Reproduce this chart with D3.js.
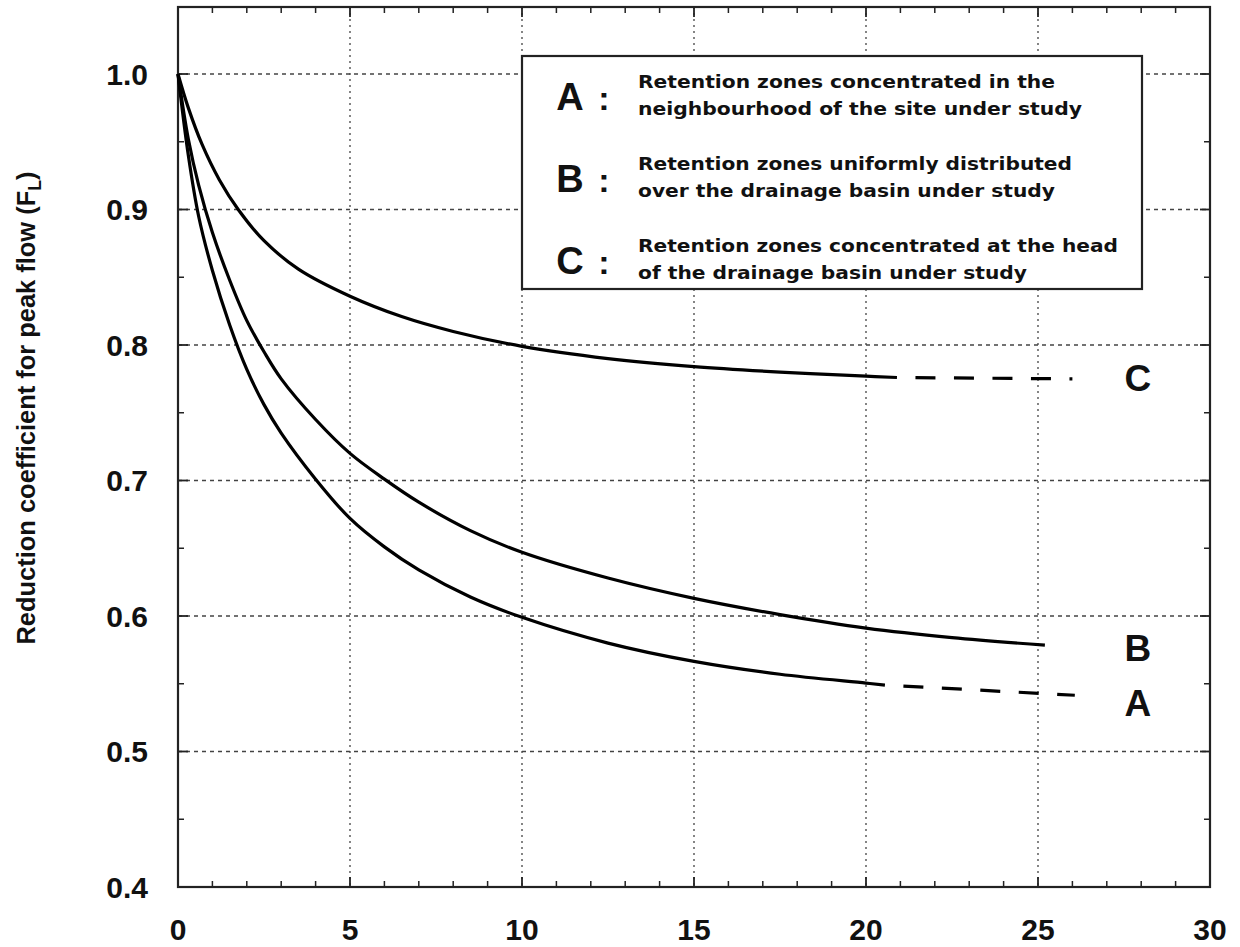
<!DOCTYPE html>
<html>
<head>
<meta charset="utf-8">
<script src="https://cdn.jsdelivr.net/npm/d3@7"></script>
<style>
  body { margin: 0; background: #fff; }
  text { font-family: "Liberation Sans", Arial, sans-serif; font-weight: bold; fill: #111; }
  .legend text.desc { font-family: "DejaVu Sans", sans-serif; }
</style>
</head>
<body>
<div id="chart"></div>
<script>
// curve A (retention zones concentrated near the site)
var xA = [0, 0.3, 0.6, 1.0, 1.5, 2.0, 2.5, 3.0, 4.0, 5, 6, 7, 8.5, 10, 12.5, 15, 17.5, 20, 20.55];
var yA = [1.0, 0.94, 0.895, 0.855, 0.815, 0.782, 0.756, 0.735, 0.701, 0.672, 0.651, 0.634, 0.614, 0.599, 0.580, 0.5665, 0.557, 0.5505, 0.549];
var xAext = [20.55, 26.07];
var yAext = [0.549, 0.5415];

// curve B (uniformly distributed)
var xB = [0, 0.3, 0.6, 1.0, 1.5, 2.0, 2.5, 3.0, 4.0, 5, 6, 7, 8.5, 10, 12.5, 15, 17.5, 20, 22.5, 25.2];
var yB = [1.0, 0.952, 0.918, 0.883, 0.848, 0.818, 0.795, 0.775, 0.745, 0.72, 0.701, 0.684, 0.663, 0.647, 0.628, 0.613, 0.601, 0.591, 0.584, 0.5785];

// curve C (concentrated at head of basin)
var xC = [0, 0.3, 0.7, 1.2, 1.75, 2.5, 3.5, 5, 6.5, 8, 10, 12.5, 15, 17.5, 20, 20.9];
var yC = [1.0, 0.975, 0.948, 0.922, 0.900, 0.877, 0.856, 0.836, 0.821, 0.810, 0.799, 0.79, 0.784, 0.78, 0.777, 0.776];
var xCext = [20.9, 26.0];
var yCext = [0.776, 0.775];

var xTicks = [0, 5, 10, 15, 20, 25, 30];
var yTicks = [0.4, 0.5, 0.6, 0.7, 0.8, 0.9, 1.0];

var curveLabels = ["C", "B", "A"];
var curveLabelY = [0.7757, 0.5764, 0.5358];

var legendKeys = ["A", "B", "C"];
var legendLines = [
  ["Retention zones concentrated in the", "neighbourhood of the site under study"],
  ["Retention zones uniformly distributed", "over the drainage basin under study"],
  ["Retention zones concentrated at the head", "of the drainage basin under study"]
];
var legendWidths = [[417, 444], [434, 417], [480, 389]];

var svgWidth = 1240;
var svgHeight = 947;
var margin = { top: 7, right: 30, bottom: 60, left: 178 };
var width = svgWidth - margin.left - margin.right;
var height = svgHeight - margin.top - margin.bottom;

var svg = d3.select("#chart")
  .append("svg")
  .attr("width", svgWidth)
  .attr("height", svgHeight);

var chartGroup = svg.append("g")
  .attr("transform", `translate(${margin.left}, ${margin.top})`);

var xScale = d3.scaleLinear().domain([0, 30]).range([0, width]);
var yScale = d3.scaleLinear().domain([0.4, 0.4 + height / 1355]).range([height, 0]);

// grid lines
chartGroup.selectAll(".vgrid")
  .data(xTicks.filter(d => d > 0 && d < 30))
  .enter().append("line")
  .attr("x1", d => xScale(d)).attr("x2", d => xScale(d))
  .attr("y1", 0).attr("y2", height)
  .attr("stroke", "#444").attr("stroke-width", 1.3)
  .attr("stroke-dasharray", "2,4");

chartGroup.selectAll(".hgrid")
  .data(yTicks.filter(d => d > 0.4))
  .enter().append("line")
  .attr("x1", 0).attr("x2", width)
  .attr("y1", d => yScale(d)).attr("y2", d => yScale(d))
  .attr("stroke", "#444").attr("stroke-width", 1.3)
  .attr("stroke-dasharray", "4,4");

// inward ticks on all four sides
var xMinor = d3.range(1, 30).filter(d => d % 5 !== 0);
var yMinor = [0.45, 0.55, 0.65, 0.75, 0.85, 0.95];

function tickMarks(vals, len, w) {
  vals.forEach(function(v) {
    chartGroup.append("line").attr("x1", xScale(v)).attr("x2", xScale(v))
      .attr("y1", height).attr("y2", height - len).attr("stroke", "#222").attr("stroke-width", w);
    chartGroup.append("line").attr("x1", xScale(v)).attr("x2", xScale(v))
      .attr("y1", 0).attr("y2", len).attr("stroke", "#222").attr("stroke-width", w);
  });
}
tickMarks(xMinor, 6, 1.5);
tickMarks(xTicks, 10, 1.8);

function yTickMarks(vals, len, w) {
  vals.forEach(function(v) {
    chartGroup.append("line").attr("x1", 0).attr("x2", len)
      .attr("y1", yScale(v)).attr("y2", yScale(v)).attr("stroke", "#222").attr("stroke-width", w);
    chartGroup.append("line").attr("x1", width).attr("x2", width - len)
      .attr("y1", yScale(v)).attr("y2", yScale(v)).attr("stroke", "#222").attr("stroke-width", w);
  });
}
yTickMarks(yMinor, 6, 1.5);
yTickMarks(yTicks, 10, 1.8);

// frame
chartGroup.append("rect")
  .attr("x", 0).attr("y", 0)
  .attr("width", width).attr("height", height)
  .attr("fill", "none").attr("stroke", "#222").attr("stroke-width", 2.2);

// tick labels
chartGroup.selectAll(".xlab")
  .data(xTicks).enter().append("text")
  .attr("x", d => xScale(d)).attr("y", height + 53)
  .attr("text-anchor", "middle")
  .style("font-size", "30px")
  .text(d => d);

chartGroup.selectAll(".ylab")
  .data(yTicks).enter().append("text")
  .attr("x", -30).attr("y", d => yScale(d))
  .attr("dy", "0.36em")
  .attr("text-anchor", "end")
  .style("font-size", "30px")
  .text(d => d3.format(".1f")(d));

// y axis title
var yTitle = svg.append("text")
  .attr("transform", "translate(35, 408) rotate(-90)")
  .attr("text-anchor", "middle")
  .style("font-size", "26px")
  .attr("textLength", 473)
  .attr("lengthAdjust", "spacingAndGlyphs");
yTitle.append("tspan").text("Reduction coefficient for peak flow (F");
yTitle.append("tspan").attr("dy", 6).style("font-size", "18px").text("L");
yTitle.append("tspan").attr("dy", -6).text(")");

// curves
var line = d3.line()
  .x(d => xScale(d[0]))
  .y(d => yScale(d[1]))
  .curve(d3.curveCatmullRom.alpha(0.5));

function drawSolid(xs, ys) {
  chartGroup.append("path")
    .datum(d3.zip(xs, ys))
    .attr("d", line)
    .attr("fill", "none").attr("stroke", "#000").attr("stroke-width", 3.2);
}
function drawDashed(xs, ys) {
  chartGroup.append("path")
    .datum(d3.zip(xs, ys))
    .attr("d", d3.line().x(d => xScale(d[0])).y(d => yScale(d[1])))
    .attr("fill", "none").attr("stroke", "#000").attr("stroke-width", 3.2)
    .attr("stroke-dasharray", "20,18.5").attr("stroke-dashoffset", 20);
}
drawSolid(xA, yA);
drawSolid(xB, yB);
drawSolid(xC, yC);
drawDashed(xAext, yAext);
drawDashed(xCext, yCext);

chartGroup.selectAll(".clab")
  .data(curveLabels).enter().append("text")
  .attr("x", xScale(27.9))
  .attr("y", (d, i) => yScale(curveLabelY[i]))
  .attr("dy", "0.36em")
  .attr("text-anchor", "middle")
  .style("font-size", "37px")
  .text(d => d);

// legend box
var legend = svg.append("g").attr("class", "legend");
legend.append("rect")
  .attr("x", 522).attr("y", 56)
  .attr("width", 620).attr("height", 233)
  .attr("fill", "#fff").attr("stroke", "#222").attr("stroke-width", 2.2);

var legendTop = [88, 170, 252];
legendKeys.forEach(function(k, i) {
  var y0 = legendTop[i];
  legend.append("text")
    .attr("x", 570).attr("y", y0 + 22)
    .attr("text-anchor", "middle")
    .style("font-size", "38px")
    .text(k);
  legend.append("text")
    .attr("x", 604).attr("y", y0 + 22)
    .attr("text-anchor", "middle")
    .style("font-size", "34px")
    .text(":");
  legendLines[i].forEach(function(t, j) {
    legend.append("text")
      .attr("class", "desc")
      .attr("x", 638).attr("y", y0 + j * 27)
      .style("font-size", "18px")
      .attr("textLength", legendWidths[i][j])
      .attr("lengthAdjust", "spacingAndGlyphs")
      .text(t);
  });
});
</script>
</body>
</html>
